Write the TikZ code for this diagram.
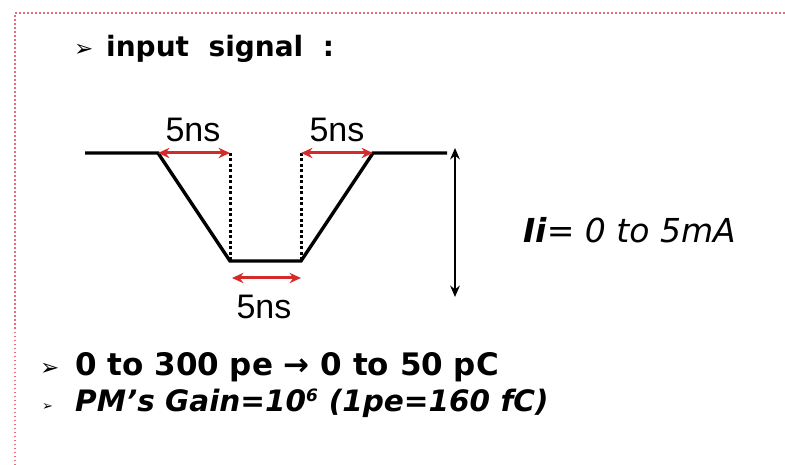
\documentclass[tikz,border=0pt]{standalone}
\usepackage{fontspec}
\setmainfont{DejaVu Sans}
\newfontfamily\nsfont{Liberation Sans}
\usetikzlibrary{arrows.meta,positioning}
\definecolor{cR}{HTML}{d42a2a}
\definecolor{cB}{HTML}{e07080}
\tikzset{
  wave/.style={line width=3.4pt,line join=miter},
  span/.style={{Stealth[length=4mm,width=3.6mm]}-{Stealth[length=4mm,width=3.6mm]},line width=3pt,cR},
  guide/.style={line width=3pt,dash pattern=on 3pt off 2.5pt},
  amp/.style={{Stealth[length=4mm,width=3.4mm]}-{Stealth[length=4mm,width=3.4mm]},line width=2.6pt},
  nslabel/.style={font=\nsfont\fontsize{34}{34}\selectfont,inner sep=0pt},
  bullet/.style={font=\fontsize{23}{23}\selectfont,inner sep=0pt,anchor=base west},
  line/.style={font=\bfseries\fontsize{28}{30}\selectfont,inner sep=0pt,anchor=base west},
  frame/.style={draw=cB,line width=1.5pt,dash pattern=on 1.5pt off 2.5pt},
}
\begin{document}
\begin{tikzpicture}[x=1pt,y=-1pt]
  \useasboundingbox (0,0) rectangle (785,465);
  % dotted frame, top and left
  \coordinate (f0) at (15,465);
  \coordinate (f1) at (15,13);
  \coordinate (f2) at (785,13);
  \draw[frame](f0)--(f1)--(f2);

  % heading
  \node[bullet] (b1) at (74,57) {➢};
  \node[line] (head) at (106,57) {input\ \ signal\ \ :};

  % pulse
  \coordinate (w0) at (85,153);
  \coordinate (w1) at (158,153);
  \coordinate (w2) at (230,261);
  \coordinate (w3) at (301,261);
  \coordinate (w4) at (373,153);
  \coordinate (w5) at (447,153);
  \coordinate (t2) at (230,153);
  \coordinate (t3) at (301,153);
  \coordinate (u2) at (232,278);
  \coordinate (u3) at (301,278);
  \draw[guide](t2)--(w2);\draw[guide](t3)--(w3);
  \draw[wave](w0)--(w1)--(w2)--(w3)--(w4)--(w5);
  \draw[span](w1)--(t2);\draw[span](t3)--(w4);\draw[span](u2)--(u3);
  \node[nslabel] (n1) at (193,130) {5ns};
  \node[nslabel] (n2) at (337,130) {5ns};
  \node[nslabel] (n3) at (264,307) {5ns};

  % amplitude
  \coordinate (a0) at (455,148);
  \coordinate (a1) at (455,297);
  \draw[amp](a0)--(a1);
  \node[font=\fontsize{33}{33}\selectfont\itshape,inner sep=0pt,anchor=west] (amp) at (523,230)
    {\textbf{Ii}= 0 to 5mA};

  % notes
  \node[bullet] (b2) at (40,375) {➢};
  \node[line,font=\bfseries\fontsize{31}{33}\selectfont] (l1) at (75,375) {0 to 300 pe → 0 to 50 pC};
  \node[bullet,font=\fontsize{13}{13}\selectfont] (b3) at (42,410) {➢};
  \node[line,font=\bfseries\itshape\fontsize{29.5}{31}\selectfont] (l2) at (75,411)
    {PM’s Gain=10\textsuperscript{\fontsize{17}{17}\selectfont 6} (1pe=160 fC)};
\end{tikzpicture}
\end{document}
